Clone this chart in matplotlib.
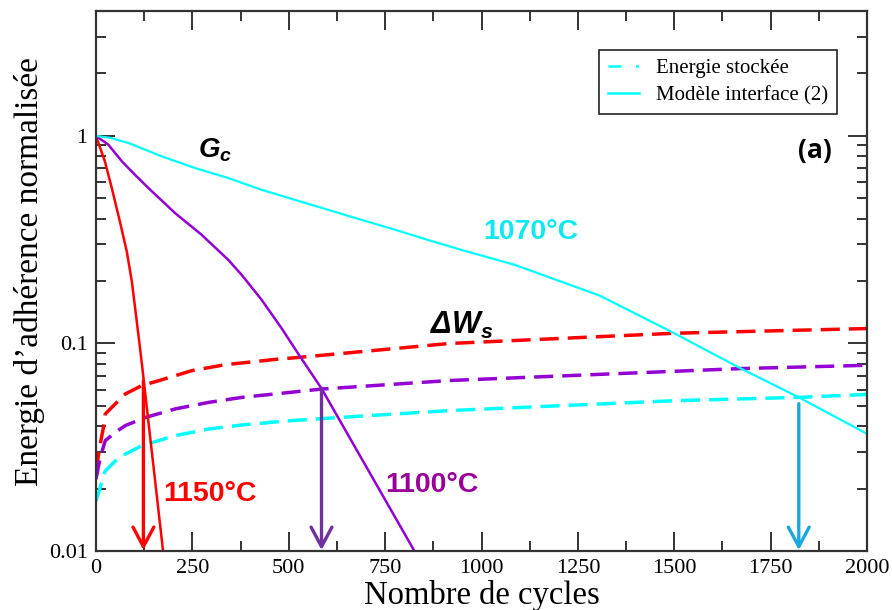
import numpy as np
import matplotlib
matplotlib.use("Agg")
import matplotlib.pyplot as plt
from matplotlib.lines import Line2D
from matplotlib.ticker import LogLocator, FixedLocator, FixedFormatter, MultipleLocator, NullFormatter

#===== DATA =====
# G_c curves (interface model), normalised adhesion energy vs cycles
x_1070 = [0, 36, 84, 170, 257, 343, 430, 516, 603, 689, 776, 862, 949, 1087, 1307, 1500, 1673, 1823, 2000]
g_1070 = [1.0, 0.98, 0.925, 0.798, 0.70, 0.627, 0.55, 0.492, 0.44, 0.394, 0.353, 0.315, 0.282,
          0.239, 0.170, 0.112, 0.0757, 0.055, 0.0367]

x_1100 = [0, 32, 67, 101, 136, 205, 274, 343, 378, 430, 482, 525, 585, 826]
g_1100 = [1.0, 0.908, 0.755, 0.65, 0.561, 0.425, 0.334, 0.253, 0.214, 0.162, 0.118, 0.089,
          0.0607, 0.01]

x_1150 = [0, 23, 41, 62, 80, 93, 106, 118, 174]
g_1150 = [1.0, 0.755, 0.561, 0.387, 0.277, 0.199, 0.127, 0.083, 0.01]

# Delta W_s curves (stored energy)
xw_1150 = [0, 11, 20, 24, 41, 76, 119, 163, 249, 335, 465, 530, 917, 1500, 2000]
w_1150 = [0.0243, 0.0327, 0.040, 0.0457, 0.0492, 0.0571, 0.0627, 0.0662, 0.074, 0.079,
          0.0838, 0.0858, 0.10, 0.112, 0.118]

xw_1100 = [0, 11, 24, 50, 76, 128, 206, 292, 379, 491, 585, 917, 1673, 2000]
w_1100 = [0.0222, 0.0282, 0.034, 0.0373, 0.0402, 0.044, 0.0484, 0.052, 0.055, 0.0578,
          0.0603, 0.0663, 0.0757, 0.0785]

xw_1070 = [0, 24, 59, 119, 206, 292, 379, 491, 616, 917, 1500, 1821, 2000]
w_1070 = [0.0174, 0.0243, 0.0282, 0.0322, 0.036, 0.0387, 0.0405, 0.0423, 0.0438, 0.0475,
          0.053, 0.055, 0.0568]

# failure arrows (cycles, starting value)
arrow_x = [123, 585, 1823]
arrow_y = [0.066, 0.0605, 0.0513]
arrow_colors = ["#FF0000", "#7030A0", "#1AA7E0"]

RED = "#FF0000"
PURPLE = "#9400D3"
CYAN = "#00FFFF"

plt.rcParams["mathtext.fontset"] = "custom"
plt.rcParams["mathtext.bfit"] = "Liberation Sans:italic:bold"
plt.rcParams["mathtext.bf"] = "Liberation Sans:bold"
plt.rcParams["mathtext.it"] = "Liberation Sans:italic:bold"

#===== FIGURE =====
fig = plt.figure(figsize=(8.92, 6.10), dpi=100)
ax = fig.add_axes([0.1076, 0.0967, 0.8644, 0.8853])

dash = (5.5, 2.6)
ax.plot(xw_1150, w_1150, color=RED, lw=2.5, dashes=dash)
ax.plot(xw_1100, w_1100, color=PURPLE, lw=2.5, dashes=dash)
ax.plot(xw_1070, w_1070, color=CYAN, lw=2.5, dashes=dash)

ax.plot(x_1150, g_1150, color=RED, lw=1.8)
ax.plot(x_1100, g_1100, color=PURPLE, lw=1.8)
ax.plot(x_1070, g_1070, color=CYAN, lw=1.6)

for xa, ya, c in zip(arrow_x, arrow_y, arrow_colors):
    ax.annotate("", xy=(xa, 0.0101), xytext=(xa, ya),
                arrowprops=dict(arrowstyle="->,head_length=1.4,head_width=0.75",
                                color=c, lw=2.4, shrinkA=0, shrinkB=0))

ax.set_yscale("log")
ax.set_xlim(0, 2000)
ax.set_ylim(0.01, 4)

# ticks, xmgrace style
ax.xaxis.set_major_locator(MultipleLocator(250))
ax.xaxis.set_minor_locator(MultipleLocator(125))
ax.yaxis.set_major_locator(FixedLocator([0.01, 0.1, 1]))
ax.yaxis.set_major_formatter(FixedFormatter(["0.01", "0.1", "1"]))
ax.yaxis.set_minor_locator(LogLocator(base=10, subs=np.arange(2, 10)))
ax.yaxis.set_minor_formatter(NullFormatter())
ax.tick_params(which="both", direction="in", top=True, right=True,
               color="#333333", width=1.4, labelsize=16, pad=6)
ax.tick_params(which="major", length=14)
ax.tick_params(which="minor", length=7)
for lab in ax.get_xticklabels() + ax.get_yticklabels():
    lab.set_family("Liberation Serif")
for s in ax.spines.values():
    s.set_linewidth(1.6)
    s.set_color("#333333")

ax.set_xlabel("Nombre de cycles", fontsize=23.5, family="Liberation Serif", labelpad=1)
ax.set_ylabel("Energie d\u2019adh\u00e9rence normalis\u00e9e", fontsize=24,
              family="Liberation Serif")
ax.yaxis.set_label_coords(-0.066, 0.517)

# annotations
ax.text(309, 0.855, r"$\mathbfit{G}_{\mathbfit{c}}$", fontsize=20, ha="center", va="center")
ax.text(1128, 0.344, "1070\u00b0C", color="#10E8F0", fontsize=20.5, weight="bold",
        family="Liberation Sans", ha="center", va="center")
ax.text(950, 0.122, r"$\mathbfit{\Delta W}_{\mathbfit{s}}$", fontsize=22, ha="center", va="center")
ax.text(296, 0.0188, "1150\u00b0C", color=RED, fontsize=20.5, weight="bold",
        family="Liberation Sans", ha="center", va="center")
ax.text(872, 0.0208, "1100\u00b0C", color="#990099", fontsize=20.5, weight="bold",
        family="Liberation Sans", ha="center", va="center")
ax.text(1865, 0.855, "(a)", fontsize=19, weight="bold", family="Open Sans",
        ha="center", va="center")

# legend
handles = [
    Line2D([], [], color=CYAN, lw=1.8, dashes=(5.2, 5.8, 1.2, 10)),
    Line2D([], [], color=CYAN, lw=1.8),
]
leg = ax.legend(handles, ["Energie stock\u00e9e", "Mod\u00e8le interface (2)"],
                loc="upper right", bbox_to_anchor=(0.961, 0.928),
                prop={"family": "Liberation Serif", "size": 15},
                fancybox=False, framealpha=1, edgecolor="#222222",
                handlelength=1.5, handletextpad=0.8, borderpad=0.42,
                labelspacing=0.35, borderaxespad=0)
leg.get_frame().set_linewidth(1.2)

plt.savefig("out.png", dpi=100)
